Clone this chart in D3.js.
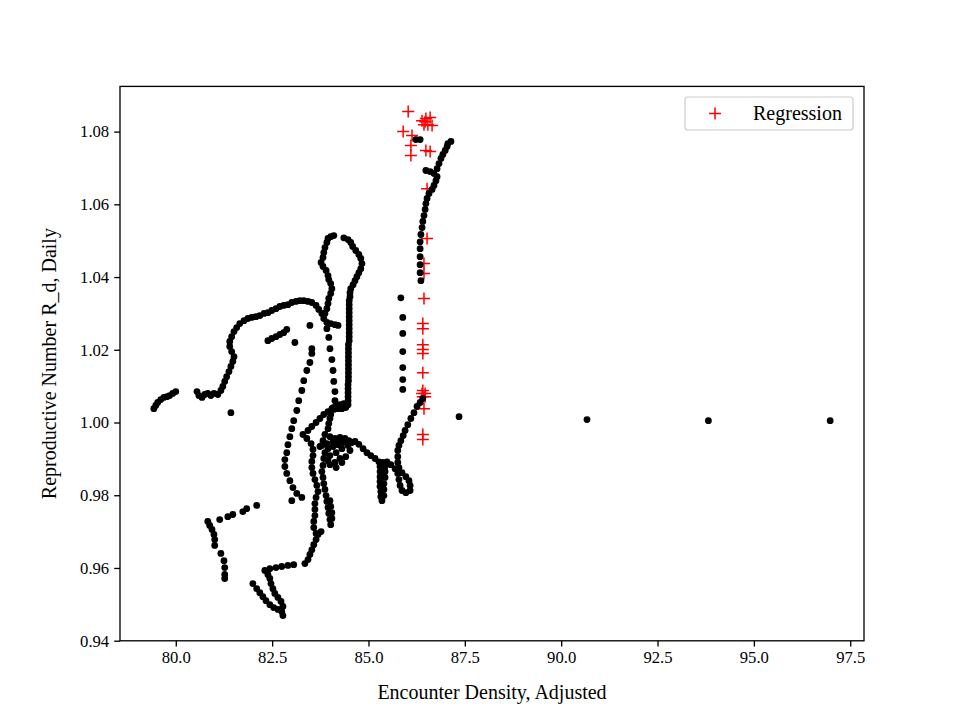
<!DOCTYPE html>
<html><head><meta charset="utf-8">
<script src="https://cdn.jsdelivr.net/npm/d3@7"></script>
<style>body{margin:0;background:#fff;} text{font-family:"Liberation Serif","Times New Roman",serif;}</style>
</head><body>
<svg id="chart" width="960" height="720"></svg>
<script>
// Black trajectory points: [encounter density, R_d daily]
const observedX = [
 79.43,79.48,79.53,79.61,79.69,79.77,79.84,79.92,80.00,
 80.55,80.60,80.68,80.75,80.83,80.91,80.99,81.09,81.17,
 81.43,
 81.22,81.27,81.32,81.38,81.43,81.48,81.51,81.45,81.40,81.40,81.45,81.51,81.58,81.66,81.77,81.87,81.97,82.08,82.18,82.29,82.39,82.49,82.60,82.70,82.80,82.91,83.01,83.12,83.22,83.32,83.43,83.53,83.64,83.71,83.79,83.84,83.92,84.02,84.13,84.21,
 83.87,83.92,83.95,83.97,84.02,84.05,84.02,83.97,83.95,83.90,83.82,83.77,83.82,83.84,83.87,83.92,83.95,84.02,84.10,84.36,84.47,84.54,84.59,84.67,84.75,84.80,84.83,84.80,84.75,84.70,84.65,84.60,84.54,84.52,84.52,
 84.50,84.50,84.50,84.50,84.50,84.50,84.50,84.50,84.50,84.50,84.50,84.48,84.48,84.48,84.48,84.48,84.48,84.48,84.48,84.48,84.48,84.47,84.47,84.47,84.47,84.47,84.47,
 84.41,84.31,84.21,84.10,
 83.92,83.97,84.00,84.05,84.08,84.10,84.13,84.13,84.08,
 83.48,83.09,83.53,83.53,83.48,83.40,83.32,83.27,83.19,83.14,83.06,83.01,82.96,82.91,82.88,82.83,82.83,82.88,82.96,83.04,83.14,83.27,83.01,
 82.39,82.49,82.60,82.70,82.80,82.88,
 82.10,81.84,81.74,81.48,81.35,81.14,80.83,80.88,80.94,80.99,81.01,81.01,81.17,81.25,81.27,81.27,81.27,
 82.00,82.10,82.18,82.26,82.34,82.44,82.54,82.65,82.75,82.78,82.78,82.73,82.65,82.57,82.52,82.47,82.44,82.39,82.31,82.44,82.60,82.75,82.91,83.06,83.35,83.43,83.48,83.53,83.58,83.64,83.69,83.77,
 83.30,83.40,83.51,83.56,83.56,83.53,83.53,83.56,83.61,83.66,83.69,83.64,83.61,83.61,83.61,83.58,83.58,83.64,
 84.36,84.26,84.16,84.05,83.95,83.84,83.74,83.64,83.53,83.43,
 84.02,84.00,83.97,83.95,
 83.87,84.00,84.13,84.26,84.39,84.34,84.21,84.08,83.95,83.87,84.00,84.16,84.31,84.47,84.57,84.26,84.13,83.95,83.82,83.74,
 83.79,83.92,84.08,84.21,84.36,84.49,83.84,84.00,84.16,84.31,84.41,84.52,
 83.82,83.79,83.82,83.84,83.87,83.90,83.92,83.95,83.97,84.00,84.02,84.05,84.05,84.02,84.00,
 84.65,84.75,84.86,84.96,85.06,85.17,85.27,85.37,85.48,
 85.30,85.30,85.30,85.30,85.30,85.32,85.32,85.35,85.43,85.43,85.43,85.40,85.40,85.40,85.37,85.37,
 85.58,85.69,85.76,85.79,85.82,85.87,85.97,86.08,86.08,86.05,85.97,85.87,85.79,85.76,85.76,85.76,85.79,85.84,85.90,85.95,86.02,86.10,86.18,86.26,86.34,86.41,
 85.84,85.89,85.89,85.89,85.89,85.89,85.89,
 86.36,86.34,86.34,86.34,86.34,86.34,86.36,86.39,86.41,86.44,86.47,86.49,86.52,86.57,86.65,86.70,86.75,86.78,86.70,86.60,86.49,86.78,86.83,86.88,86.93,86.99,87.04,87.06,87.14,
 86.23,86.34,
 87.35,90.67,93.82,96.98
];
const observedY = [
 1.0038,1.0047,1.0055,1.0063,1.0069,1.0071,1.0074,1.0080,1.0085,
 1.0085,1.0074,1.0069,1.0077,1.0080,1.0074,1.0080,1.0077,1.0088,
 1.0027,
 1.0099,1.0113,1.0126,1.0140,1.0154,1.0168,1.0181,1.0195,1.0209,1.0223,1.0236,1.0250,1.0261,1.0272,1.0280,1.0286,1.0289,1.0291,1.0294,1.0300,1.0302,1.0308,1.0313,1.0319,1.0322,1.0324,1.0330,1.0333,1.0335,1.0335,1.0333,1.0330,1.0322,1.0311,1.0300,1.0286,1.0275,1.0272,1.0269,1.0267,
 1.0300,1.0313,1.0327,1.0341,1.0355,1.0368,1.0382,1.0393,1.0404,1.0418,1.0429,1.0440,1.0454,1.0467,1.0481,1.0495,1.0506,1.0511,1.0514,1.0508,1.0503,1.0495,1.0484,1.0473,1.0462,1.0451,1.0437,1.0423,1.0412,1.0401,1.0390,1.0379,1.0368,1.0357,1.0346,
 1.0335,1.0324,1.0313,1.0302,1.0291,1.0280,1.0269,1.0258,1.0247,1.0236,1.0225,1.0214,1.0203,1.0192,1.0181,1.0170,1.0159,1.0148,1.0137,1.0126,1.0115,1.0104,1.0093,1.0082,1.0071,1.0060,1.0049,
 1.0041,1.0038,1.0038,1.0036,
 1.0258,1.0234,1.0203,1.0173,1.0143,1.0113,1.0085,1.0060,1.0041,
 1.0267,1.0220,1.0203,1.0190,1.0165,1.0143,1.0115,1.0088,1.0060,1.0033,1.0005,0.9983,0.9961,0.9939,0.9917,0.9898,0.9879,0.9860,0.9840,0.9821,0.9805,0.9794,0.9785,
 1.0225,1.0231,1.0236,1.0242,1.0247,1.0256,
 0.9772,0.9763,0.9755,0.9747,0.9741,0.9733,0.9728,0.9717,0.9706,0.9692,0.9678,0.9662,0.9640,0.9620,0.9601,0.9582,0.9571,
 0.9557,0.9543,0.9532,0.9521,0.9510,0.9499,0.9491,0.9486,0.9480,0.9469,0.9494,0.9508,0.9519,0.9530,0.9543,0.9557,0.9571,0.9582,0.9593,0.9598,0.9601,0.9604,0.9607,0.9609,0.9612,0.9623,0.9637,0.9650,0.9664,0.9678,0.9692,0.9700,
 0.9967,0.9956,0.9942,0.9926,0.9909,0.9893,0.9876,0.9860,0.9843,0.9827,0.9810,0.9794,0.9777,0.9761,0.9744,0.9728,0.9711,0.9695,
 1.0052,1.0049,1.0044,1.0038,1.0030,1.0022,1.0011,1.0000,0.9989,0.9978,
 1.0022,1.0011,0.9997,0.9983,
 0.9967,0.9961,0.9956,0.9959,0.9956,0.9945,0.9939,0.9934,0.9928,0.9917,0.9909,0.9917,0.9928,0.9937,0.9945,0.9901,0.9890,0.9895,0.9950,0.9934,
 0.9937,0.9942,0.9948,0.9948,0.9948,0.9950,0.9901,0.9884,0.9876,0.9890,0.9906,0.9923,
 0.9882,0.9865,0.9849,0.9832,0.9816,0.9799,0.9783,0.9766,0.9750,0.9733,0.9719,0.9736,0.9752,0.9769,0.9785,
 0.9948,0.9940,0.9928,0.9917,0.9909,0.9901,0.9892,0.9890,0.9892,
 0.9879,0.9865,0.9851,0.9838,0.9824,0.9810,0.9796,0.9785,0.9879,0.9865,0.9849,0.9832,0.9816,0.9799,0.9857,0.9827,
 0.9884,0.9873,0.9860,0.9843,0.9827,0.9813,0.9807,0.9813,0.9827,0.9840,0.9851,0.9862,0.9876,0.9890,0.9906,0.9923,0.9937,0.9950,0.9964,0.9978,0.9994,1.0011,1.0027,1.0044,1.0055,1.0066,
 1.0343,1.0289,1.0245,1.0195,1.0151,1.0118,1.0091,
 1.0390,1.0412,1.0434,1.0456,1.0478,1.0497,1.0517,1.0536,1.0553,1.0569,1.0586,1.0602,1.0616,1.0630,1.0641,1.0652,1.0665,1.0676,1.0685,1.0690,1.0693,1.0698,1.0712,1.0726,1.0737,1.0748,1.0759,1.0767,1.0773,
 1.0778,1.0778,
 1.0016,1.0008,1.0005,1.0005
];
// Regression points (red +)
const regressionX = [86.03,85.90,86.13,86.10,86.10,86.39,86.49,86.60,86.44,86.54,86.65,86.47,86.49,86.60,86.52,86.52,86.44,86.44,86.44,86.41,86.41,86.41,86.41,86.41,86.41,86.41,86.39,86.47,86.41,86.47,86.44,86.41,86.41];
const regressionY = [1.0855,1.0800,1.0789,1.0762,1.0734,1.0830,1.0836,1.0839,1.0819,1.0819,1.0817,1.0827,1.0748,1.0745,1.0643,1.0506,1.0437,1.0410,1.0341,1.0272,1.0258,1.0214,1.0201,1.0190,1.0137,1.0088,1.0080,1.0080,1.0071,1.0071,1.0038,0.9967,0.9953];
const xTicks = [80.0,82.5,85.0,87.5,90.0,92.5,95.0,97.5];
const yTicks = [0.94,0.96,0.98,1.00,1.02,1.04,1.06,1.08];
const xLabel = "Encounter Density, Adjusted";
const yLabel = "Reproductive Number R_d, Daily";
const legendLabel = "Regression";

const svg = d3.select("#chart");
const L = 120, R = 864, T = 86.4, B = 640.8;
const allX = observedX.concat(regressionX), allY = observedY.concat(regressionY);
const [x0, x1] = d3.extent(allX), [y0, y1] = d3.extent(allY);
const mx = (x1 - x0) * 0.05, my = (y1 - y0) * 0.05;
const x = d3.scaleLinear().domain([x0 - mx, x1 + mx]).range([L, R]);
const y = d3.scaleLinear().domain([y0 - my, y1 + my]).range([B, T]);

// regression first, black points on top
const plus = svg.append("g");
regressionX.forEach((v, i) => {
  const cx = x(v), cy = y(regressionY[i]);
  plus.append("path").attr("d", `M${cx-6},${cy}H${cx+6}M${cx},${cy-6}V${cy+6}`)
    .attr("stroke", "#ff0000").attr("stroke-width", 1.5).attr("fill", "none");
});
svg.append("g").selectAll("circle").data(observedX).join("circle")
  .attr("cx", d => x(d)).attr("cy", (d, i) => y(observedY[i])).attr("r", 3.4).attr("fill", "#000");

const fs = 16.67, fsl = 20;
const xa = svg.append("g").attr("transform", `translate(0,${B})`)
  .call(d3.axisBottom(x).tickValues(xTicks).tickFormat(d3.format(".1f")).tickSizeOuter(0).tickSize(5.8).tickPadding(5));
const ya = svg.append("g").attr("transform", `translate(${L},0)`)
  .call(d3.axisLeft(y).tickValues(yTicks).tickFormat(d3.format(".2f")).tickSizeOuter(0).tickSize(5.8).tickPadding(5));
[xa, ya].forEach(a => {
  a.select(".domain").remove();
  a.selectAll("line").attr("stroke", "#000").attr("stroke-width", 1.33);
  a.selectAll("text").attr("font-size", fs).attr("fill", "#000").attr("font-family", "Liberation Serif");
});
svg.append("rect").attr("x", L).attr("y", T).attr("width", R - L).attr("height", B - T)
  .attr("fill", "none").attr("stroke", "#000").attr("stroke-width", 1.33);

svg.append("text").attr("x", (L + R) / 2).attr("y", 699).attr("text-anchor", "middle")
  .attr("font-size", fsl).text(xLabel);
svg.append("text").attr("transform", `translate(56,${(T + B) / 2}) rotate(-90)`).attr("text-anchor", "middle")
  .attr("font-size", fsl).text(yLabel);

// legend
const lg = svg.append("g");
lg.append("rect").attr("x", 685).attr("y", 97).attr("width", 168).attr("height", 33).attr("rx", 3)
  .attr("fill", "#fff").attr("fill-opacity", 0.8).attr("stroke", "#cccccc").attr("stroke-width", 1.2);
lg.append("path").attr("d", "M709,113.5H721M715,107.5V119.5").attr("stroke", "#ff0000").attr("stroke-width", 1.5);
lg.append("text").attr("x", 753).attr("y", 120).attr("font-size", fsl).text(legendLabel);
</script>
</body></html>
